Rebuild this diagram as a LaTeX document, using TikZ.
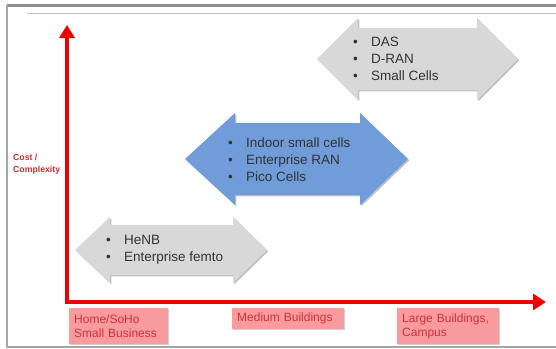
\documentclass[tikz,border=0pt]{standalone}
\usepackage{fontspec}
\setmainfont{Liberation Sans}
\usetikzlibrary{arrows.meta,shadows}

\definecolor{axisred}{HTML}{EE0000}
\definecolor{boxpink}{HTML}{F89B9E}
\definecolor{boxtext}{HTML}{D0323C}
\definecolor{arrowgray}{HTML}{D8D8D8}
\definecolor{arrowblue}{HTML}{709DDA}
\definecolor{labelred}{HTML}{D42A30}
\definecolor{listgray}{HTML}{333333}

% wide double-headed arrow: style, left tip, left head base, right head base,
% right tip, centre y, shaft half height, head half height
\newcommand\widedoublearrow[8]{%
  \fill[#1] (#2,#6) -- (#3,#6-#8) -- (#3,#6-#7) -- (#4,#6-#7) -- (#4,#6-#8)
    -- (#5,#6) -- (#4,#6+#8) -- (#4,#6+#7) -- (#3,#6+#7) -- (#3,#6+#8) -- cycle;}

% one bulleted line
\newcommand\bulletline[1]{\makebox[18pt][l]{\textbullet}#1}

\tikzset{
  softshadow/.style={drop shadow={shadow xshift=1.3pt, shadow yshift=-1.3pt,
      opacity=0.35, fill=black!70}},
  grayarrow/.style={fill=arrowgray, softshadow},
  bluearrow/.style={fill=arrowblue, softshadow},
  listtext/.style={anchor=west, inner sep=0pt, align=left, text=listgray,
      font=\fontsize{13.5}{17}\selectfont},
  rangebox/.style={anchor=north west, fill=boxpink, text=boxtext, align=left,
      inner xsep=5pt, inner ysep=0pt, font=\fontsize{12}{14}\selectfont,
      drop shadow={shadow xshift=1pt, shadow yshift=-1pt, opacity=0.3, fill=black!60}},
  axisline/.style={draw=axisred, line width=3.4pt, line join=miter,
      {Triangle[length=13pt,width=15pt]}-{Triangle[length=13pt,width=16pt]}},
  axislabel/.style={anchor=west, inner sep=0pt, align=left, text=labelred,
      font=\fontsize{8.7}{12.5}\selectfont\bfseries}
}

\begin{document}
\begin{tikzpicture}[x=1pt, y=-1pt]
\useasboundingbox (0,0) rectangle (556,348);
\fill[white] (0,0) rectangle (556,348);

% slide frame
\draw[black!45, line width=3pt] (7,5) -- (556,5);
\draw[black!35, line width=1.3pt] (7,5) -- (7,347) -- (556,347);
\draw[black!25, line width=0.8pt] (27,13) -- (556,13);

% axes
\coordinate (ytip) at (67,25);
\coordinate (origin) at (67,302);
\coordinate (xtip) at (546,302);
\draw[axisline] (ytip) -- (origin) -- (xtip);
\node[axislabel] (ylabel) at (13,164) {Cost /\\Complexity};

% range arrows
\widedoublearrow{grayarrow}{317}{358}{477}{518}{59}{31}{41}
\widedoublearrow{bluearrow}{185}{235}{360}{408}{159}{36}{46}
\widedoublearrow{grayarrow}{75}{110}{233}{267}{250}{25}{33}

\node[listtext] (top) at (353,59)
  {\bulletline{DAS}\\\bulletline{D-RAN}\\\bulletline{Small Cells}};
\node[listtext] (middle) at (228,160)
  {\bulletline{Indoor small cells}\\\bulletline{Enterprise RAN}\\\bulletline{Pico Cells}};
\node[listtext] (bottom) at (106,250)
  {\bulletline{HeNB}\\\bulletline{Enterprise femto}};

% building size labels
\node[rangebox, text width=89pt, minimum height=36pt] (home) at (69,308)
  {Home/SoHo\\Small Business};
\node[rangebox, text width=102pt, minimum height=21pt] (medium) at (232,308)
  {Medium Buildings};
\node[rangebox, text width=92pt, minimum height=36pt] (large) at (397,308)
  {Large Buildings,\\Campus};
\end{tikzpicture}
\end{document}
